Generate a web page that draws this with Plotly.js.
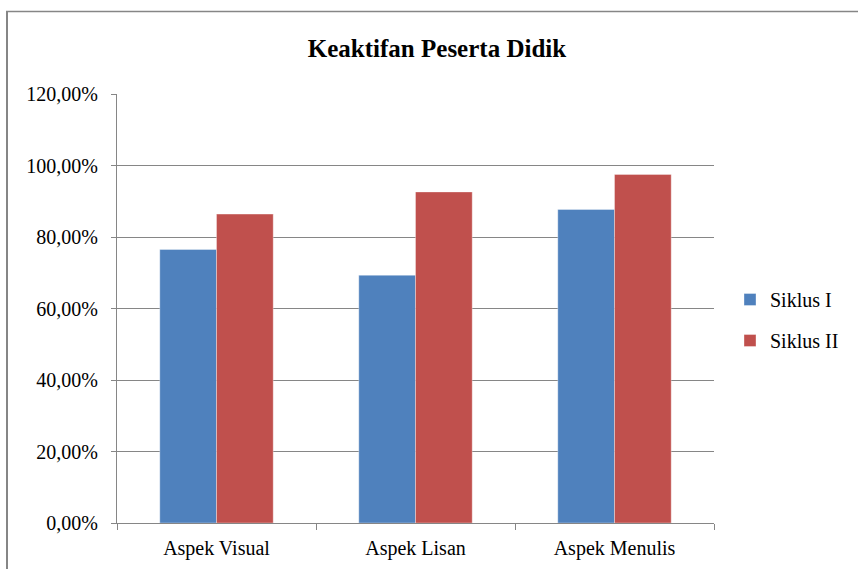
<!DOCTYPE html>
<html>
<head>
<meta charset="utf-8">
<script src="https://cdn.plot.ly/plotly-3.0.1.min.js"></script>
<style>html,body{margin:0;padding:0;background:#fff;}#chart{width:858px;height:569px;}</style>
</head>
<body>
<div id="chart"></div>
<script>
const categories = ["Aspek Visual", "Aspek Lisan", "Aspek Menulis"];
const seriesNames = ["Siklus I", "Siklus II"];
const siklus1 = [0.765, 0.693, 0.877];
const siklus2 = [0.864, 0.926, 0.975];
const colors = ["#4F81BD", "#C0504D"];
const yTicks = [0, 0.2, 0.4, 0.6, 0.8, 1.0, 1.2];
const chartTitle = "Keaktifan Peserta Didik";

const font = "Liberation Serif";

const traces = [siklus1, siklus2].map((vals, i) => ({
  type: "bar",
  name: seriesNames[i],
  x: categories,
  y: vals,
  legendgroup: "g" + i,
  marker: {color: colors[i], line: {color: "rgba(255,255,255,0.35)", width: 1}},
  hoverinfo: "skip"
}));

const W = 858, H = 569, L = 117, R = 144, T = 94, B = 46;
const pw = W - L - R, ph = H - T - B;
const px = v => (v - L) / pw;
const py = v => (H - B - v) / ph;

const layout = {
  width: W, height: H,
  margin: {l: L, r: R, t: T, b: B, pad: 0},
  paper_bgcolor: "#ffffff",
  plot_bgcolor: "#ffffff",
  separators: ",.",
  font: {family: font, size: 20, color: "#000"},
  title: {text: "<b>" + chartTitle + "</b>", font: {family: font, size: 25, color: "#000"},
          x: px(437), xref: "paper", xanchor: "center", y: 1 - 48 / H, yanchor: "middle"},
  barmode: "group",
  bargap: 0.43,
  bargroupgap: 0,
  showlegend: true,
  legend: {x: px(730), xanchor: "left", y: py(320), yanchor: "middle",
           font: {family: font, size: 20, color: "#000"}, tracegroupgap: 12,
           bgcolor: "rgba(0,0,0,0)"},
  xaxis: {
    type: "category",
    showline: true, linecolor: "#868686", linewidth: 1,
    ticks: "outside", tickson: "boundaries", ticklen: 6, tickcolor: "#868686",
    showgrid: false, zeroline: false,
    tickfont: {family: font, size: 20, color: "#000"},
    ticklabelstandoff: 7
  },
  yaxis: {
    range: [0, 1.2],
    tickvals: yTicks,
    tickformat: ".2%",
    showline: true, linecolor: "#868686", linewidth: 1,
    ticks: "outside", ticklen: 5, tickcolor: "#868686",
    showgrid: true, gridcolor: "#868686", gridwidth: 1,
    zeroline: false,
    tickfont: {family: font, size: 20, color: "#000"},
    ticklabelstandoff: 9
  },
  shapes: [
    {type: "line", xref: "paper", yref: "paper", x0: px(7), x1: px(7), y0: py(11.5), y1: py(575),
     line: {color: "#868686", width: 2}},
    {type: "line", xref: "paper", yref: "paper", x0: px(6), x1: px(865), y0: py(11.5), y1: py(11.5),
     line: {color: "#868686", width: 1.5}}
  ]
};

Plotly.newPlot("chart", traces, layout, {displayModeBar: false, staticPlot: true});
</script>
</body>
</html>
